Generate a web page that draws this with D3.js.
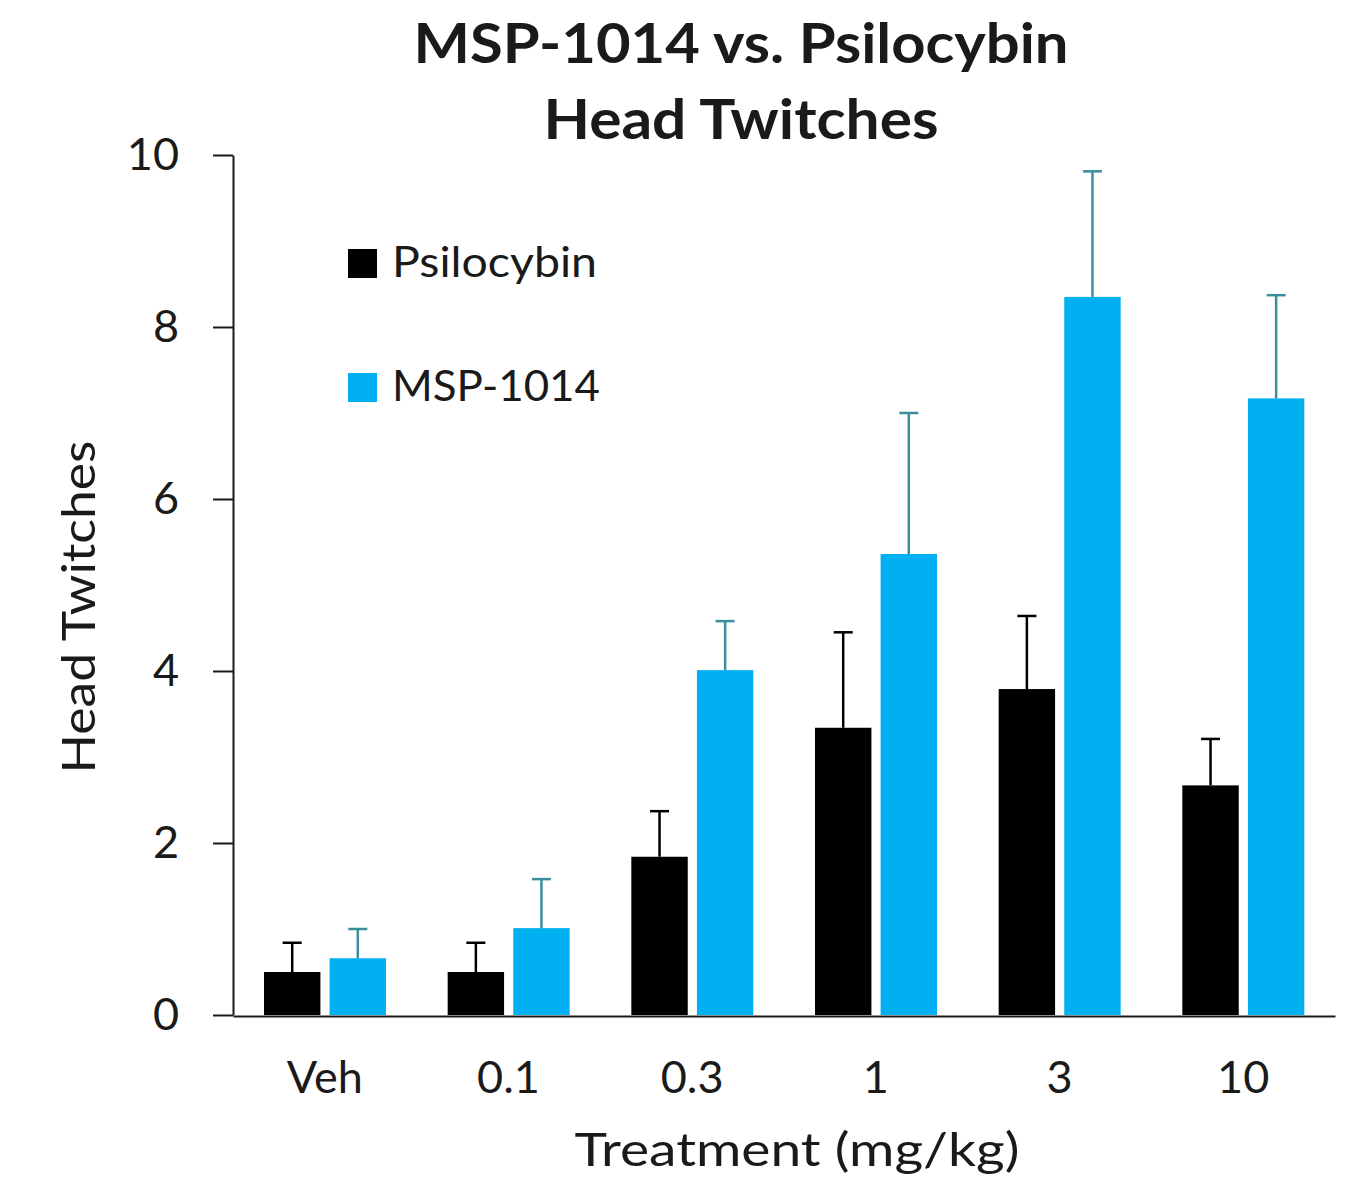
<!DOCTYPE html>
<html>
<head>
<meta charset="utf-8">
<script src="https://cdn.jsdelivr.net/npm/d3@7"></script>
<style>
  html, body { margin: 0; padding: 0; background: #ffffff; }
  svg { display: block; }
  text { font-family: Lato, "Open Sans", "DejaVu Sans", sans-serif; fill: #1a1a1a; }
</style>
</head>
<body>
<svg id="chart" width="1352" height="1178"></svg>
<script>
// ---- data ----
const categories = ["Veh", "0.1", "0.3", "1", "3", "10"];
const seriesNames = ["Psilocybin", "MSP-1014"];
const psilocybinMean = [0.50, 0.50, 1.84, 3.34, 3.79, 2.67];
const psilocybinErr  = [0.34, 0.34, 0.53, 1.11, 0.85, 0.54];
const mspMean        = [0.66, 1.01, 4.01, 5.36, 8.35, 7.17];
const mspErr         = [0.34, 0.57, 0.57, 1.64, 1.46, 1.20];
const yTicks = [0, 2, 4, 6, 8, 10];
const titleLines = ["MSP-1014 vs. Psilocybin", "Head Twitches"];
const xTitle = "Treatment (mg/kg)";
const yTitle = "Head Twitches";

const colors = { "Psilocybin": "#000000", "MSP-1014": "#00b0f0" };
const errColors = { "Psilocybin": "#000000", "MSP-1014": "#3a8e9c" };

const rows = categories.map((c, i) => ({
  cat: c,
  values: [
    { s: "Psilocybin", v: psilocybinMean[i], e: psilocybinErr[i] },
    { s: "MSP-1014", v: mspMean[i], e: mspErr[i] }
  ]
}));

const svg = d3.select("#chart");

const x0 = d3.scaleBand().domain(categories).range([233, 1335]).paddingInner(0).paddingOuter(0);
const x1 = d3.scaleBand().domain(seriesNames).range([31, 153]).paddingInner(0.14).paddingOuter(0);
const y = d3.scaleLinear().domain([0, 10]).range([1015, 155]);

// title
svg.selectAll("text.title").data(titleLines).enter().append("text")
  .attr("class", "title")
  .attr("x", 741)
  .attr("y", (d, i) => 63 + i * 76)
  .attr("text-anchor", "middle")
  .attr("font-size", 55)
  .attr("font-weight", 700)
  .attr("textLength", (d, i) => i === 0 ? 655 : 395)
  .attr("lengthAdjust", "spacingAndGlyphs")
  .text(d => d);

// bars
const groups = svg.append("g").selectAll("g.grp").data(rows).enter().append("g")
  .attr("class", "grp")
  .attr("transform", d => `translate(${x0(d.cat)},0)`);

groups.selectAll("rect").data(d => d.values).enter().append("rect")
  .attr("x", d => x1(d.s))
  .attr("width", x1.bandwidth())
  .attr("y", d => y(d.v))
  .attr("height", d => y(0) - y(d.v))
  .attr("fill", d => colors[d.s]);

// error bars (upper only)
const capW = 19;
groups.selectAll("line.err").data(d => d.values).enter().append("line")
  .attr("class", "err")
  .attr("x1", d => x1(d.s) + x1.bandwidth() / 2)
  .attr("x2", d => x1(d.s) + x1.bandwidth() / 2)
  .attr("y1", d => y(d.v))
  .attr("y2", d => y(d.v + d.e))
  .attr("stroke", d => errColors[d.s])
  .attr("stroke-width", 2.5);
groups.selectAll("line.cap").data(d => d.values).enter().append("line")
  .attr("class", "cap")
  .attr("x1", d => x1(d.s) + x1.bandwidth() / 2 - capW / 2)
  .attr("x2", d => x1(d.s) + x1.bandwidth() / 2 + capW / 2)
  .attr("y1", d => y(d.v + d.e))
  .attr("y2", d => y(d.v + d.e))
  .attr("stroke", d => errColors[d.s])
  .attr("stroke-width", 2.5);

// y axis
const yAxis = svg.append("g").attr("transform", "translate(233,0)")
  .call(d3.axisLeft(y).tickValues(yTicks).tickFormat(d3.format("d")).tickSize(20).tickSizeOuter(0).tickPadding(34));
yAxis.selectAll("path, line").attr("stroke", "#1a1a1a").attr("stroke-width", 2);
yAxis.selectAll("text").attr("font-size", 45).attr("fill", "#1a1a1a")
  .style("font-family", "Lato, 'Open Sans', sans-serif");

// x axis
const xAxis = svg.append("g").attr("transform", "translate(0,1016)")
  .call(d3.axisBottom(x0).tickSize(0).tickSizeOuter(0).tickPadding(0));
xAxis.select("path").attr("stroke", "#1a1a1a").attr("stroke-width", 2);
xAxis.selectAll("text").attr("font-size", 45).attr("fill", "#1a1a1a")
  .attr("y", 77).attr("dy", null)
  .style("font-family", "Lato, 'Open Sans', sans-serif");

// axis titles
svg.append("text")
  .attr("x", 797).attr("y", 1166)
  .attr("text-anchor", "middle")
  .attr("font-size", 46)
  .attr("textLength", 445).attr("lengthAdjust", "spacingAndGlyphs")
  .text(xTitle);

svg.append("text")
  .attr("transform", "translate(95,607) rotate(-90)")
  .attr("text-anchor", "middle")
  .attr("font-size", 46)
  .attr("textLength", 333).attr("lengthAdjust", "spacingAndGlyphs")
  .text(yTitle);

// legend
const legend = svg.append("g").selectAll("g").data(seriesNames).enter().append("g")
  .attr("transform", (d, i) => `translate(348,${249 + i * 124})`);
legend.append("rect").attr("width", 29).attr("height", 29).attr("fill", d => colors[d]);
legend.append("text").attr("x", 44).attr("y", 28).attr("font-size", 42)
  .attr("textLength", d => d === "Psilocybin" ? 205 : 208).attr("lengthAdjust", "spacingAndGlyphs")
  .text(d => d);
</script>
</body>
</html>
